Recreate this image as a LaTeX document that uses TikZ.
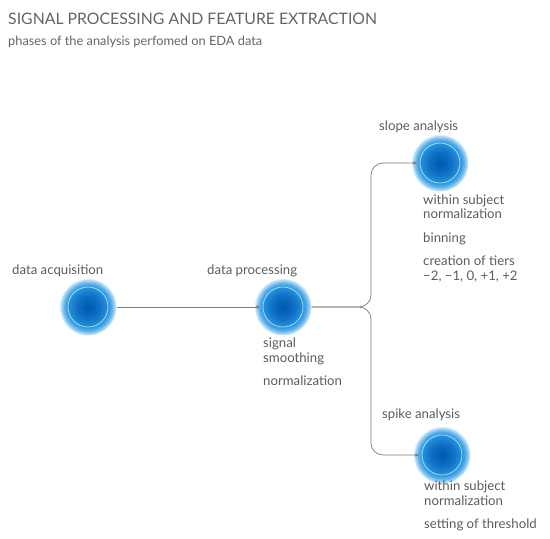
\documentclass[tikz,border=0pt]{standalone}
\usepackage{fontspec}
\setmainfont{Lato}
\usetikzlibrary{arrows.meta}
\definecolor{txt}{RGB}{92,92,92}
\definecolor{ttl}{RGB}{100,100,100}
\definecolor{conncol}{RGB}{125,125,125}
\definecolor{ringcol}{RGB}{150,222,250}
\definecolor{gA}{RGB}{0,88,170}
\definecolor{gB}{RGB}{15,112,198}
\definecolor{gC}{RGB}{40,145,218}
\definecolor{gD}{RGB}{95,178,235}
\definecolor{gE}{RGB}{190,225,248}
\pgfdeclareradialshading{glow}{\pgfpoint{0bp}{0bp}}{color(0bp)=(gA); color(10bp)=(gB); color(17.5bp)=(gC); color(21bp)=(gD); color(24bp)=(gE); color(25.5bp)=(white); color(50bp)=(white)}
\tikzset{
  glowdot/.style={circle, minimum size=57pt, inner sep=0pt, shading=glow,
    path picture={\draw[ringcol, line width=0.8pt] (path picture bounding box.center) circle (20pt);}},
  lbl/.style={anchor=base west, inner sep=0pt, text=txt, font=\fontsize{13.2}{15}\selectfont},
  conn/.style={draw=conncol, line width=0.7pt, -{Triangle[length=4pt,width=3.2pt]}, shorten >=-6pt},
}
\begin{document}
\begin{tikzpicture}[x=1pt,y=-1pt]
\useasboundingbox (0,0) rectangle (550,539);
\node[anchor=base west, inner sep=0pt, text=ttl, font=\fontsize{15.8}{18}\selectfont] (title) at (8,24) {SIGNAL PROCESSING AND FEATURE EXTRACTION};
\node[anchor=base west, inner sep=0pt, text=ttl, font=\fontsize{12.8}{15}\selectfont] (sub) at (8,45) {phases of the analysis perfomed on EDA data};

\node[glowdot] (acq) at (88,307) {};
\node[glowdot] (proc) at (283,307) {};
\node[glowdot] (slope) at (440,163) {};
\node[glowdot] (spike) at (442,455) {};

\node[lbl] (lacq) at (12,274) {data acquisition};
\node[lbl] (lproc) at (207,274) {data processing};
\node[lbl] (lslope) at (379,130) {slope analysis};
\node[lbl] (lspike) at (382,418) {spike analysis};

\node[lbl] (p1) at (263,347) {signal};
\node[lbl] (p2) at (263,362) {smoothing};
\node[lbl] (p3) at (263,385) {normalization};

\node[lbl] (s1) at (423,204) {within subject};
\node[lbl] (s2) at (423,218) {normalization};
\node[lbl] (s3) at (423,242) {binning};
\node[lbl] (s4) at (423,265) {creation of tiers};
\node[lbl] (s5) at (423,280) {−2, −1, 0, +1, +2};

\node[lbl] (k1) at (424,490) {within subject};
\node[lbl] (k2) at (424,505) {normalization};
\node[lbl] (k3) at (424,528) {setting of threshold};

\coordinate (split) at (371,307);
\draw[conn, shorten <=0pt] (acq.east) -- (proc.west);
\draw[conn, rounded corners=12pt] (proc.east) -- (split) |- (slope.west);
\draw[conn, rounded corners=12pt] (proc.east) -- (split) |- (spike.west);
\end{tikzpicture}
\end{document}
